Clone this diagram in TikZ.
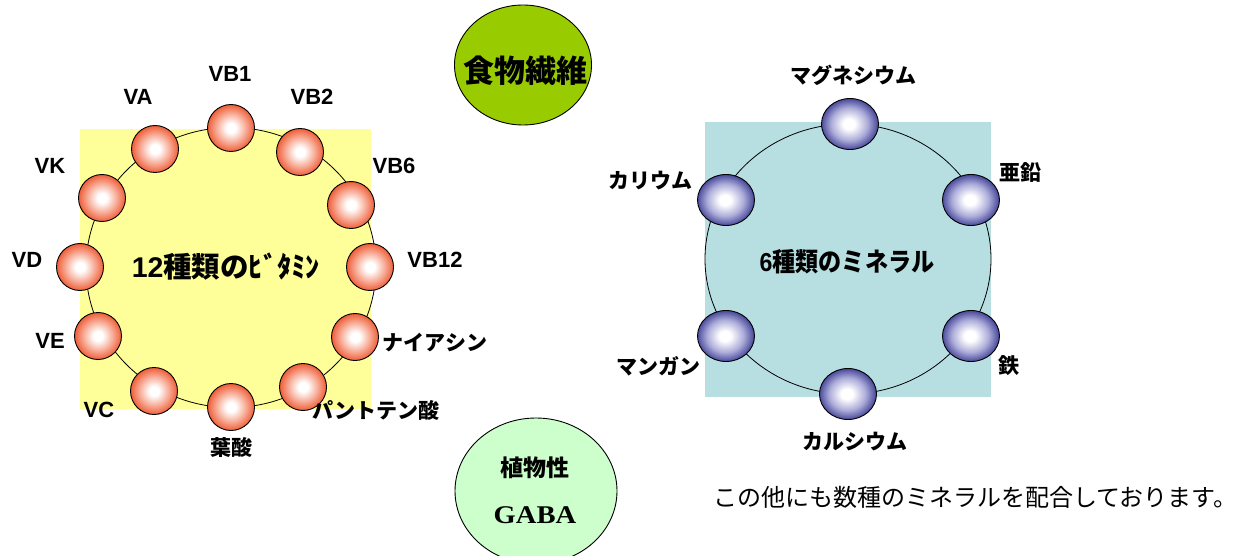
\documentclass[tikz,border=0pt]{standalone}
\usepackage{fontspec}
\setmainfont{Liberation Sans}
\newfontfamily\jp{Noto Sans CJK JP}
\newfontfamily\serifL{Liberation Serif}
\usetikzlibrary{shapes.geometric}
\definecolor{yel}{HTML}{FFFF99}
\definecolor{lblue}{HTML}{B7DFE2}
\definecolor{fgreen}{HTML}{99CC00}
\definecolor{lgreen}{HTML}{CCFFCC}
\definecolor{orb}{HTML}{EE5E38}
\definecolor{orbm}{HTML}{F8B09C}
\definecolor{blb}{HTML}{48489A}
\definecolor{blbm}{HTML}{ACACDA}
\pgfdeclareradialshading{orangeball}{\pgfpoint{0bp}{0bp}}{color(0bp)=(white); color(5bp)=(white); color(15bp)=(orbm); color(25bp)=(orb); color(50bp)=(orb)}
\pgfdeclareradialshading{blueball}{\pgfpoint{-1bp}{0bp}}{color(0bp)=(white); color(5bp)=(white); color(16bp)=(blbm); color(25bp)=(blb); color(50bp)=(blb)}
\tikzset{
  obub/.style={circle, draw=black, line width=0.9pt, minimum size=47pt, inner sep=0pt, shade, shading=orangeball},
  bbub/.style={ellipse, draw=black, line width=0.9pt, minimum width=57pt, minimum height=51pt, inner sep=0pt, shade, shading=blueball},
  lab/.style={font=\fontsize{22}{24}\selectfont\bfseries, inner sep=0pt},
  jlab/.style={font=\fontsize{21}{24}\selectfont\jp\bfseries, inner sep=0pt},
  ring/.style={ellipse, draw=black, line width=0.8pt, inner sep=0pt},
}
\begin{document}
\begin{tikzpicture}[x=1pt,y=-1pt]
\useasboundingbox (0,0) rectangle (1237,556);
\clip (0,0) rectangle (1237,556);
% background boxes
\fill[yel] (80,129) rectangle (371,409);
\fill[lblue] (705,122) rectangle (991,397);
% rings
\node[ring, minimum width=290pt, minimum height=280pt] (vring) at (231,267.5) {};
\node[ring, minimum width=286pt, minimum height=270pt] (mring) at (848,259) {};
% vitamin bubbles
\node[obub] (vb1) at (231,128) {};
\node[obub] (vb2) at (300,152) {};
\node[obub] (vb6) at (351,205) {};
\node[obub] (vb12) at (370,267) {};
\node[obub] (nia) at (355,337) {};
\node[obub] (pan) at (303,387) {};
\node[obub] (yos) at (231,407) {};
\node[obub] (vc) at (154,391) {};
\node[obub] (ve) at (98,336) {};
\node[obub] (vd) at (80,267) {};
\node[obub] (vk) at (102,198) {};
\node[obub] (va) at (155,149) {};
% vitamin labels
\node[lab] (lvb1) at (230,74) {VB1};
\node[lab] (lva) at (138,97) {VA};
\node[lab] (lvb2) at (312,97) {VB2};
\node[lab] (lvk) at (50,166) {VK};
\node[lab] (lvb6) at (394,166) {VB6};
\node[lab] (lvd) at (27,260) {VD};
\node[lab] (lvb12) at (435,260) {VB12};
\node[lab] (lve) at (50,341) {VE};
\node[jlab] (lnia) at (435,343) {ナイアシン};
\node[lab] (lvc) at (99,410) {VC};
\node[jlab] (lpan) at (376,410) {パントテン酸};
\node[jlab] (lyos) at (231,447) {葉酸};
\node[inner sep=0pt, font=\fontsize{28.5}{31}\selectfont\bfseries] (vtitle) at (226,267) {12{\jp 種類のﾋﾞﾀﾐﾝ}};
% mineral bubbles
\node[bbub] (mg) at (850,124) {};
\node[bbub] (k) at (726,200) {};
\node[bbub] (zn) at (971,200) {};
\node[bbub] (mn) at (726,336) {};
\node[bbub] (fe) at (971,336) {};
\node[bbub] (ca) at (848,394) {};
% mineral labels
\node[jlab] (lmg) at (853,75) {マグネシウム};
\node[jlab] (lk) at (650,181) {カリウム};
\node[jlab] (lzn) at (1020,173) {亜鉛};
\node[jlab] (lmn) at (658,366) {マンガン};
\node[jlab] (lfe) at (1009,366) {鉄};
\node[jlab] (lca) at (855,442) {カルシウム};
\node[inner sep=0pt, font=\fontsize{26}{30}\selectfont\bfseries] (mtitle) at (847,262) {\scalebox{0.89}[1]{6{\jp 種類のミネラル}}};
% fiber
\node[ellipse, draw=black, line width=0.9pt, fill=fgreen, minimum width=137pt, minimum height=120pt, inner sep=0pt] (fiber) at (523,65) {};
\node[inner sep=0pt, font=\fontsize{31}{34}\selectfont\jp\bfseries] (lfiber) at (525,71) {食物繊維};
% GABA
\node[ellipse, draw=black, line width=0.9pt, fill=lgreen, minimum width=162pt, minimum height=146pt, inner sep=0pt] (gaba) at (536,491) {};
\node[inner sep=0pt, font=\fontsize{23}{26}\selectfont\jp\bfseries] (lgaba1) at (535,468) {植物性};
\node[inner sep=0pt, font=\fontsize{25.5}{30}\selectfont\serifL\bfseries] (lgaba2) at (535,515) {\scalebox{1.12}[1]{GABA}};
% note
\node[inner sep=0pt, anchor=west, font=\fontsize{24}{27}\selectfont\jp] (note) at (713,497) {この他にも数種のミネラルを配合しております。};
\end{tikzpicture}
\end{document}
